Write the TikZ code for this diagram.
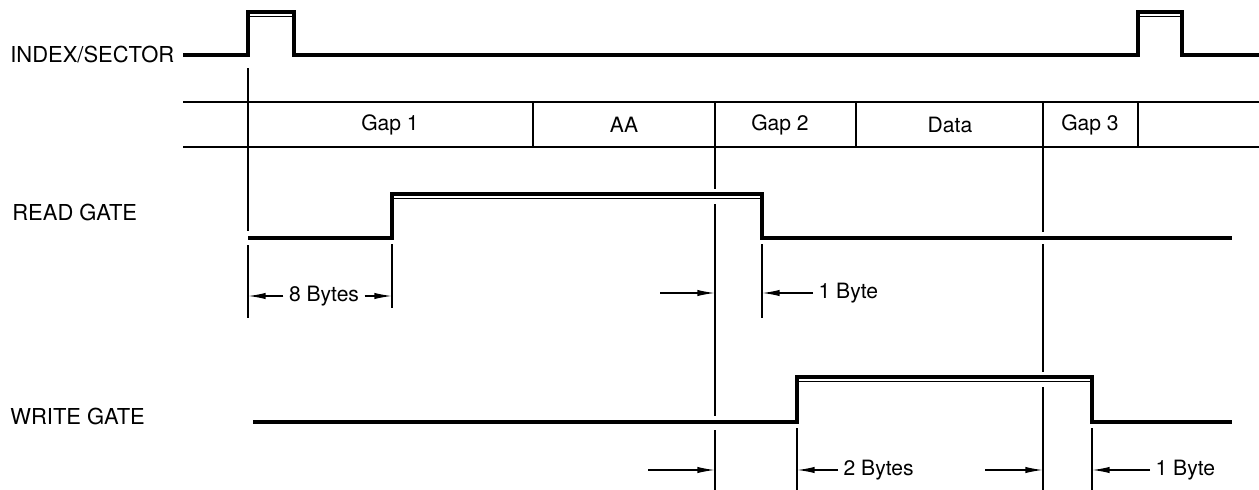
\documentclass[tikz,border=0pt]{standalone}
\usepackage{fontspec}
\setmainfont{TeX Gyre Heros}
\usetikzlibrary{arrows.meta, positioning, calc}
\tikzset{
  siglabel/.style={anchor=west, inner sep=0pt, font=\fontsize{12.5}{14}\selectfont},
  cell/.style={inner sep=0pt, font=\fontsize{12}{14}\selectfont},
  dimtext/.style={anchor=west, inner sep=3pt, font=\fontsize{12}{14}\selectfont},
  signal/.style={line width=2.2pt, line join=miter},
  highedge/.style={line width=1.1pt},
  band/.style={line width=1pt},
  guide/.style={line width=0.8pt},
  dimarrow/.style={-{Latex[length=10pt, width=3.6pt]}, line width=0.8pt}
}
\begin{document}
\begin{tikzpicture}[x=0.02cm, y=-0.02cm]
  \useasboundingbox (0,0) rectangle (1259,490);

  % Time marks
  \coordinate (t0) at (248,0);
  \coordinate (tA) at (392,0);
  \coordinate (tC) at (715,0);
  \coordinate (tD) at (762,0);
  \coordinate (tE) at (797,0);
  \coordinate (tG) at (1043,0);
  \coordinate (tH) at (1092,0);

  % Index/sector line
  \node[siglabel] (idx) at (10,55) {INDEX/SECTOR};
  \draw[signal] (183,55) -- (248,55) -- (248,12) -- (294,12) -- (294,55)
    -- (1138,55) -- (1138,12) -- (1182,12) -- (1182,55) -- (1259,55);
  \draw[highedge] (248,16.5) -- (294,16.5);
  \draw[highedge] (1138,16.5) -- (1182,16.5);

  % Track layout
  \draw[band] (183,102) -- (1259,102);
  \draw[band] (183,147) -- (1259,147);
  \foreach \x in {248,533,715,856,1043,1138}
    \draw[band] (\x,102) -- (\x,147);
  \node[cell] (gap1) at (390,125) {Gap 1};
  \node[cell] (aa) at (624,125) {AA};
  \node[cell] (gap2) at (780,125) {Gap 2};
  \node[cell] (data) at (950,125) {Data};
  \node[cell] (gap3) at (1090,125) {Gap 3};

  % Read gate
  \node[siglabel] (rg) at (12,212) {READ GATE};
  \draw[signal] (248,238) -- (392,238) -- (392,194) -- (762,194) -- (762,238) -- (1232,238);
  \draw[highedge] (392,198.5) -- (762,198.5);

  % Write gate
  \node[siglabel] (wg) at (10,416) {WRITE GATE};
  \draw[signal] (253,422) -- (797,422) -- (797,377) -- (1092,377) -- (1092,422) -- (1232,422);
  \draw[highedge] (797,381.5) -- (1092,381.5);

  % Guides
  \draw[guide] (248,68) -- (248,231) (248,245) -- (248,318);
  \draw[guide] (392,244) -- (392,308);
  \draw[guide] (715,147) -- (715,189) (715,204) -- (715,416) (715,430) -- (715,490);
  \draw[guide] (762,244) -- (762,318);
  \draw[guide] (797,428) -- (797,490);
  \draw[guide] (1043,147) -- (1043,232) (1043,244) -- (1043,372) (1043,387) -- (1043,490);
  \draw[guide] (1092,428) -- (1092,490);

  % Read gate timing
  \node[dimtext, anchor=center] (eight) at (324,296) {8 Bytes};
  \draw[dimarrow] (eight.west) -- (eight.west -| t0);
  \draw[dimarrow] (eight.east) -- (eight.east -| tA);
  \coordinate (rdL) at (660,293);
  \draw[dimarrow] (rdL) -- (rdL -| tC);
  \node[dimtext] (rbyte) at (813,293) {1 Byte};
  \draw[dimarrow] (rbyte.west) -- (rbyte.west -| tD);

  % Write gate timing
  \coordinate (wrL) at (648,470);
  \draw[dimarrow] (wrL) -- (wrL -| tC);
  \node[dimtext] (twob) at (838,470) {2 Bytes};
  \draw[dimarrow] (twob.west) -- (twob.west -| tE);
  \coordinate (wrM) at (985,470);
  \draw[dimarrow] (wrM) -- (wrM -| tG);
  \node[dimtext] (wbyte) at (1150,470) {1 Byte};
  \draw[dimarrow] (wbyte.west) -- (wbyte.west -| tH);
\end{tikzpicture}
\end{document}
